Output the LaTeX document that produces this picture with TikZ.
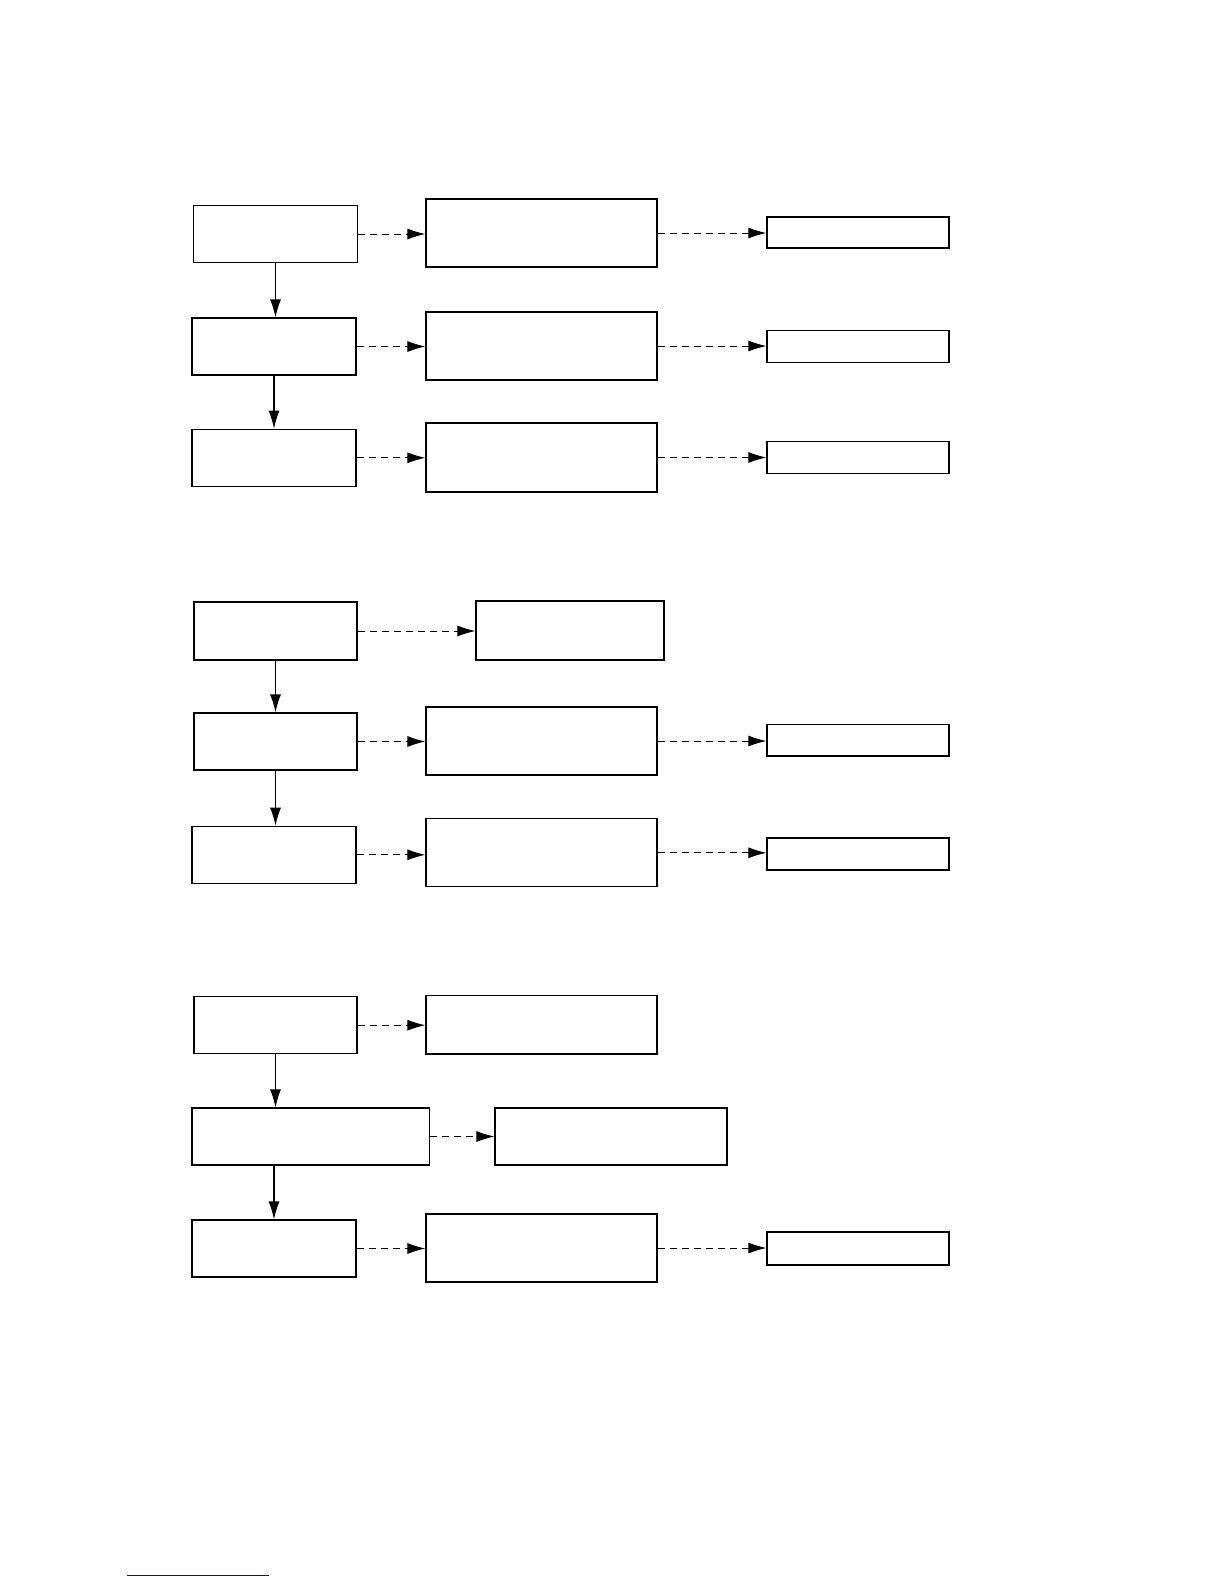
\documentclass[tikz,border=0pt]{standalone}
\usepackage{amssymb,latexsym}
\usetikzlibrary{arrows.meta}

\begin{document}
\begin{tikzpicture}[x=0.5bp,y=-0.5bp,
  panel/.style={draw,line width=0.6pt,inner sep=0pt},
  lbox/.style={panel,minimum width=82bp,minimum height=28.5bp},
  mbox/.style={panel,minimum width=115.5bp,minimum height=34bp},
  rbox/.style={panel,minimum width=91bp,minimum height=16bp},
  flow/.style={line width=0.6pt,-{Latex[length=9bp,width=5.5bp]}},
  dflow/.style={flow,line width=0.5pt,dash pattern=on 3.5bp off 2.5bp}]
  \fill[white] (0,0) rectangle (1225,1585);
  \useasboundingbox (0,0) rectangle (1225,1585);
  \node[lbox] (a1) at (275.5,234) {};
  \node[lbox] (a2) at (274,346.5) {};
  \node[lbox] (a3) at (274,457.8) {};
  \node[mbox] (b1) at (541.5,233) {};
  \node[mbox] (b2) at (541.5,346) {};
  \node[mbox,minimum height=34.5bp] (b3) at (541.5,457.5) {};
  \node[rbox,minimum height=15.5bp] (c1) at (858,232.5) {};
  \node[rbox] (c2) at (858,346.8) {};
  \node[rbox] (c3) at (858,457.8) {};
  \draw[flow] (a1) -- (a1 |- a2.north);
  \draw[flow] (a2) -- (a2 |- a3.north);
  \foreach \i in {1,2,3}{
    \draw[dflow] (a\i) -- (a\i -| b\i.west);
    \draw[dflow] (b\i) -- (b\i -| c\i.west);
  }

  \node[lbox,minimum width=81.5bp,minimum height=29bp] (d1) at (275.5,631) {};
  \node[lbox,minimum width=81.5bp] (d2) at (275.5,741.5) {};
  \node[lbox] (d3) at (274,854.8) {};
  \node[panel,minimum width=94bp,minimum height=29.5bp] (e1) at (570,630.5) {};
  \node[mbox] (e2) at (541.5,741) {};
  \node[mbox] (e3) at (541.5,852.8) {};
  \node[rbox,minimum height=15.7bp] (f2) at (858,740.3) {};
  \node[rbox] (f3) at (858,854) {};
  \draw[flow] (d1) -- (d1 |- d2.north);
  \draw[flow] (d2) -- (d2 |- d3.north);
  \draw[dflow] (d1) -- (d1 -| e1.west);
  \foreach \i in {2,3}{
    \draw[dflow] (d\i) -- (d\i -| e\i.west);
    \draw[dflow] (e\i) -- (e\i -| f\i.west);
  }

  \node[lbox,minimum width=81.5bp] (g1) at (275.5,1025.2) {};
  \node[panel,minimum width=118.75bp,minimum height=28.5bp] (g2) at (310.8,1136.5) {};
  \node[lbox] (g3) at (274,1248.5) {};
  \node[panel,minimum width=115.5bp,minimum height=29.25bp] (h1) at (541.5,1024.8) {};
  \node[panel,minimum width=116bp,minimum height=28.5bp] (h2) at (611,1136.5) {};
  \node[mbox] (h3) at (541.5,1248) {};
  \node[rbox,minimum height=16.5bp] (i3) at (858,1248.5) {};
  \draw[flow] (g1) -- (g1 |- g2.north);
  \draw[flow] (g3 |- g2.south) -- (g3);
  \foreach \i in {1,2,3}
    \draw[dflow] (g\i) -- (g\i -| h\i.west);
  \draw[dflow] (h3) -- (h3 -| i3.west);

  \draw[blue,line width=0.5pt] (127,1575) -- (269,1575);
\end{tikzpicture}
\end{document}
